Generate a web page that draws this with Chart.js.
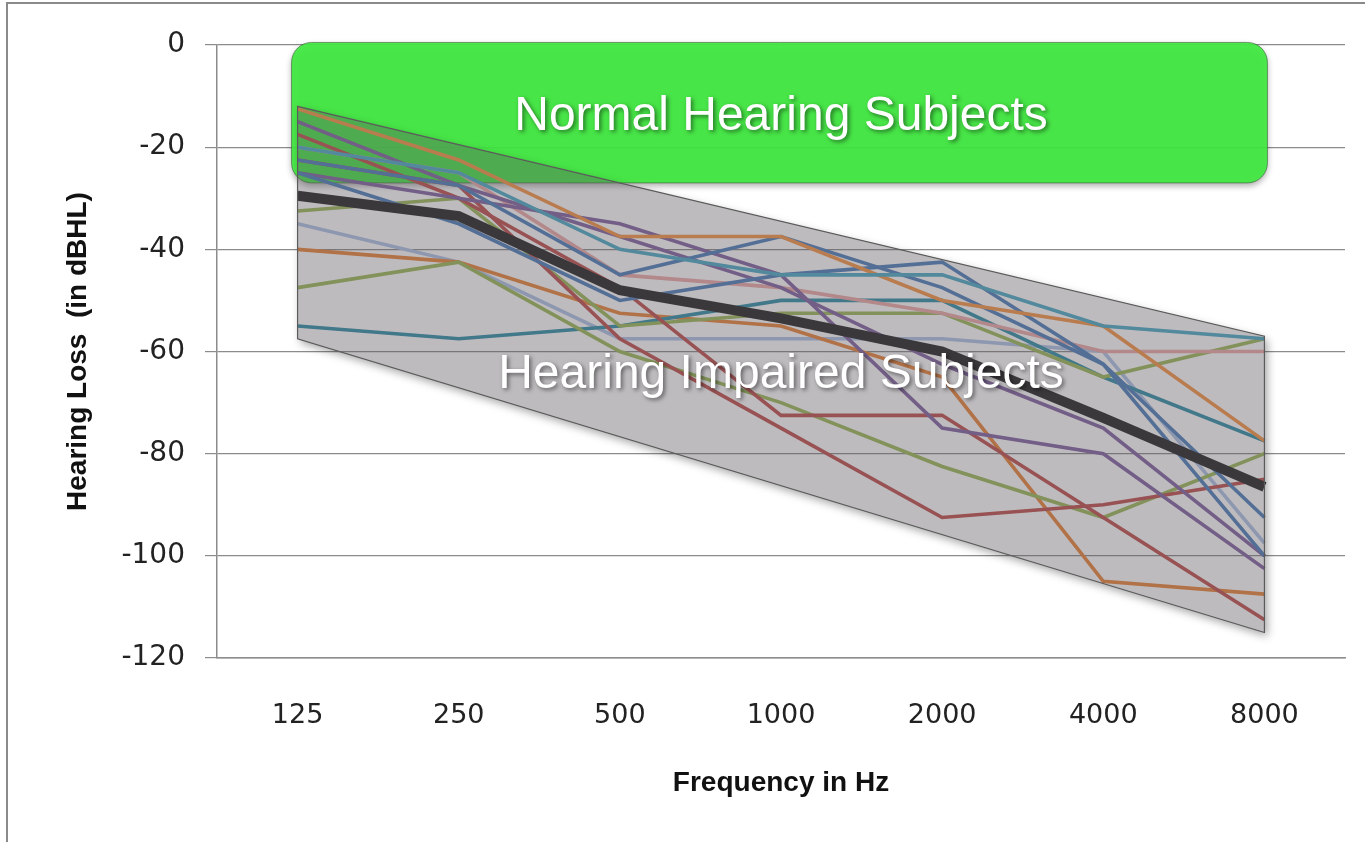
<!DOCTYPE html>
<html>
<head>
<meta charset="utf-8">
<script src="https://cdn.jsdelivr.net/npm/chart.js@4.4.0/dist/chart.umd.min.js"></script>
<style>
  html, body { margin: 0; padding: 0; background: #fff; }
  #wrap { width: 1365px; height: 842px; position: relative; }
</style>
</head>
<body>
<div id="wrap"><canvas id="audiogram"></canvas></div>
<script>
// frequencies (Hz) and y tick values (dBHL)
const frequencies = ['125', '250', '500', '1000', '2000', '4000', '8000'];
const yTickValues = [0, -20, -40, -60, -80, -100, -120];

// individual hearing impaired subjects
const subjTealA    = [-20,   -25,   -40,   -45,   -45,   -55,   -57.5];
const subjOrangeA  = [-12.5, -22.5, -37.5, -37.5, -50,   -55,   -77.5];
const subjBlueA    = [-22.5, -27.5, -45,   -37.5, -47.5, -62.5, -100];
const subjBlueB    = [-25,   -35,   -50,   -45,   -42.5, -62.5, -92.5];
const subjPurpleA  = [-25,   -30,   -35,   -45,   -75,   -80,   -102.5];
const subjPurpleB  = [-15,   -27.5, -37.5, -47.5, -62.5, -75,   -100];
const subjRedA     = [-17.5, -30,   -47.5, -72.5, -72.5, -92.5, -112.5];
const subjRedB     = [-22.5, -27.5, -57.5, -75,   -92.5, -90,   -85];
const subjPink     = [-20,   -25,   -45,   -47.5, -52.5, -60,   -60];
const subjGreenA   = [-32.5, -30,   -55,   -52.5, -52.5, -65,   -57.5];
const subjGreenB   = [-47.5, -42.5, -60,   -70,   -82.5, -92.5, -80];
const subjTealB    = [-55,   -57.5, -55,   -50,   -50,   -65,   -77.5];
const subjOrangeB  = [-40,   -42.5, -52.5, -55,   -65,   -105,  -107.5];
const subjLightBlue= [-35,   -42.5, -57.5, -57.5, -57.5, -60,   -97.5];

// average of the group
const meanLoss = [-29.5, -33.5, -48, -53.5, -60, -73, -86.5];

// shaded band: values at 125 Hz and 8000 Hz
const bandUpper = [-12, -57];
const bandLower = [-57.5, -115];
// normal hearing region (dBHL)
const normalTop = 0.5;
const normalBottom = -27;
const normalLabelLevel = -14;
const impairedLabelLevel = -64.5;

const subjects = [
  [subjTealA, '#4BACC6'], [subjOrangeA, '#F79646'], [subjBlueA, '#4F81BD'],
  [subjBlueB, '#4F81BD'], [subjPurpleA, '#8064A2'], [subjPurpleB, '#8064A2'],
  [subjRedA, '#C0504D'], [subjRedB, '#C0504D'], [subjPink, '#EBAAAA'],
  [subjGreenA, '#9BBB59'], [subjGreenB, '#9BBB59'], [subjTealB, '#2F8FA8'],
  [subjOrangeB, '#EC853A'], [subjLightBlue, '#ADC4E6']
];

const datasets = [{
  label: 'Mean',
  data: meanLoss,
  borderColor: '#262626',
  borderWidth: 10,
  order: 0
}].concat(subjects.map(([values, color], i) => ({
  label: 'Subject ' + (i + 1),
  data: values,
  borderColor: color,
  borderWidth: 3.6,
  order: 1
})));

function roundRect(ctx, x, y, w, h, r) {
  ctx.beginPath();
  ctx.moveTo(x + r, y);
  ctx.arcTo(x + w, y, x + w, y + h, r);
  ctx.arcTo(x + w, y + h, x, y + h, r);
  ctx.arcTo(x, y + h, x, y, r);
  ctx.arcTo(x, y, x + w, y, r);
  ctx.closePath();
}

function shadowText(ctx, text, x, y) {
  ctx.save();
  ctx.font = '48px "Liberation Sans", Arial, sans-serif';
  ctx.textAlign = 'center';
  ctx.textBaseline = 'middle';
  ctx.shadowColor = 'rgba(0,0,0,0.5)';
  ctx.shadowBlur = 4;
  ctx.shadowOffsetX = 2;
  ctx.shadowOffsetY = 2;
  ctx.fillStyle = '#ffffff';
  ctx.fillText(text, x, y);
  ctx.restore();
}

const overlays = {
  id: 'overlays',
  beforeDraw(chart) {
    const ctx = chart.ctx;
    ctx.save();
    ctx.strokeStyle = '#8a8a8a';
    ctx.lineWidth = 2;
    ctx.strokeRect(7, 3, chart.width + 20, chart.height + 20);
    ctx.restore();
  },
  beforeDatasetsDraw(chart) {
    const ctx = chart.ctx;
    const x = chart.scales.x, y = chart.scales.y;
    const left = x.getPixelForValue(0) - 6;
    const right = x.getPixelForValue(frequencies.length - 1) + 3;
    const top = y.getPixelForValue(normalTop);
    const bottom = y.getPixelForValue(normalBottom);
    ctx.save();
    ctx.shadowColor = 'rgba(0,0,0,0.35)';
    ctx.shadowBlur = 6;
    ctx.shadowOffsetY = 3;
    roundRect(ctx, left, top, right - left, bottom - top, 20);
    ctx.fillStyle = 'rgba(64,234,64,0.93)';
    ctx.fill();
    ctx.shadowColor = 'transparent';
    ctx.strokeStyle = 'rgba(60,90,60,0.6)';
    ctx.lineWidth = 1;
    ctx.stroke();
    ctx.restore();
  },
  afterDatasetsDraw(chart) {
    const ctx = chart.ctx;
    const x = chart.scales.x, y = chart.scales.y;
    const x0 = x.getPixelForValue(0), x1 = x.getPixelForValue(frequencies.length - 1);
    const pts = [
      [x0, y.getPixelForValue(bandUpper[0])],
      [x1, y.getPixelForValue(bandUpper[1])],
      [x1, y.getPixelForValue(bandLower[1])],
      [x0, y.getPixelForValue(bandLower[0])]
    ];
    const path = () => {
      ctx.beginPath();
      pts.forEach(([px, py], i) => i ? ctx.lineTo(px, py) : ctx.moveTo(px, py));
      ctx.closePath();
    };
    // drop shadow outside the band only
    ctx.save();
    ctx.beginPath();
    ctx.rect(0, 0, chart.width, chart.height);
    pts.slice().reverse().forEach(([px, py], i) => i ? ctx.lineTo(px, py) : ctx.moveTo(px, py));
    ctx.closePath();
    ctx.clip('evenodd');
    ctx.shadowColor = 'rgba(0,0,0,0.35)';
    ctx.shadowBlur = 8;
    ctx.shadowOffsetX = 3;
    ctx.shadowOffsetY = 4;
    path();
    ctx.fillStyle = '#ffffff';
    ctx.fill();
    ctx.restore();

    ctx.save();
    path();
    ctx.fillStyle = 'rgba(92,84,92,0.4)';
    ctx.fill();
    ctx.strokeStyle = '#5a5a5a';
    ctx.lineWidth = 1.2;
    ctx.stroke();
    ctx.restore();

    const cx = (chart.chartArea.left + chart.chartArea.right) / 2;
    shadowText(ctx, 'Normal Hearing Subjects', cx, y.getPixelForValue(normalLabelLevel));
    shadowText(ctx, 'Hearing Impaired Subjects', cx, y.getPixelForValue(impairedLabelLevel));
  }
};

new Chart(document.getElementById('audiogram'), {
  type: 'line',
  data: { labels: frequencies, datasets: datasets },
  plugins: [overlays],
  options: {
    responsive: true,
    maintainAspectRatio: false,
    animation: false,
    layout: { padding: { top: 45, right: 20, left: 0, bottom: 0 } },
    elements: { point: { radius: 0 }, line: { tension: 0 } },
    plugins: { legend: { display: false }, tooltip: { enabled: false } },
    scales: {
      x: {
        offset: true,
        afterFit: (scale) => { scale.height = 184; },
        grid: { display: false, drawTicks: false, offset: true },
        border: { display: true, color: '#8c8c8c', width: 1.5 },
        ticks: { color: '#222', padding: 42, font: { family: '"DejaVu Sans", Verdana, sans-serif', size: 27 } },
        title: {
          display: true, text: 'Frequency in Hz', color: '#111',
          font: { family: '"Liberation Sans Narrow", "Arial Narrow", sans-serif', size: 28, weight: 'bold' },
          padding: { top: 0, bottom: 42 }
        }
      },
      y: {
        min: -120, max: 0,
        afterFit: (scale) => { scale.width = 217; },
        afterBuildTicks: (scale) => { scale.ticks = yTickValues.map(v => ({ value: v })); },
        grid: { color: '#8c8c8c', lineWidth: 1.2, drawTicks: true, tickLength: 12 },
        border: { display: true, color: '#8c8c8c', width: 1.5 },
        ticks: { color: '#222', padding: 20, font: { family: '"DejaVu Sans", Verdana, sans-serif', size: 28 } },
        title: {
          display: true, text: 'Hearing Loss  (in dBHL)', color: '#111',
          font: { family: '"Liberation Sans Narrow", "Arial Narrow", sans-serif', size: 28, weight: 'bold' },
          padding: { top: 61, bottom: 0 }
        }
      }
    }
  }
});
</script>
</body>
</html>
